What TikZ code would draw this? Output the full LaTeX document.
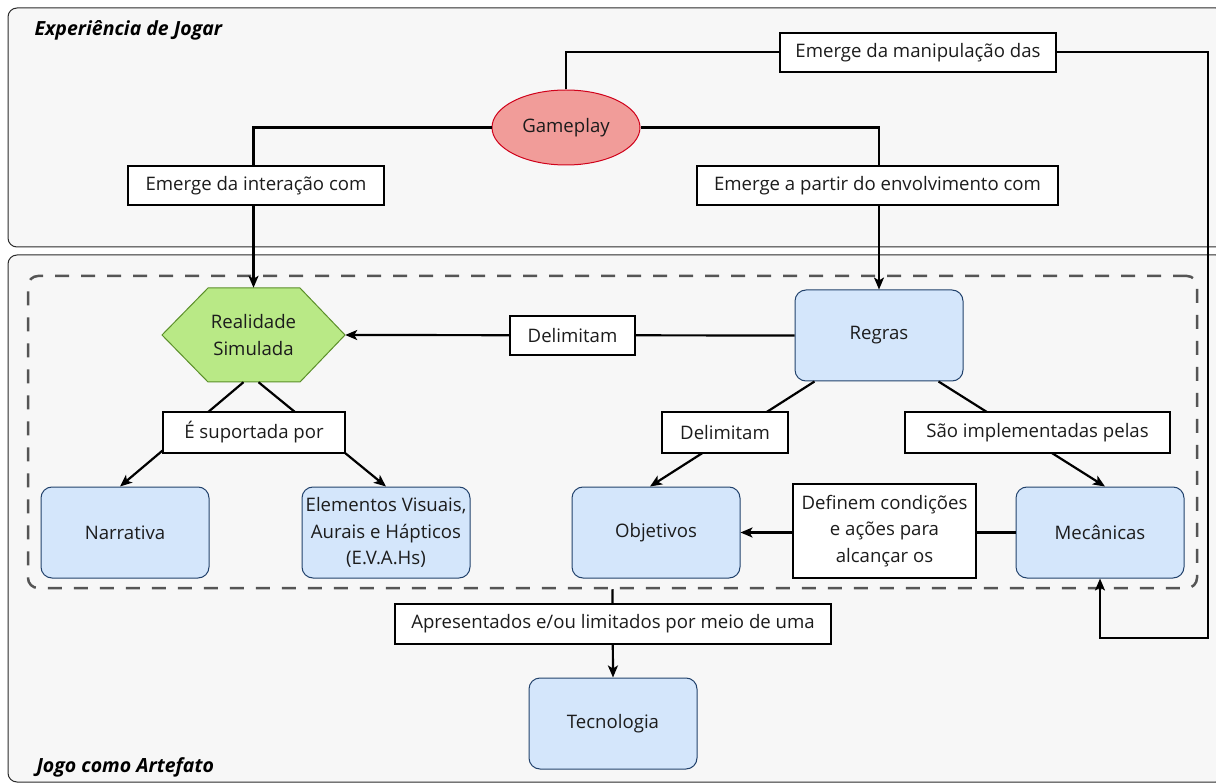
\documentclass[tikz,border=0pt]{standalone}
\usepackage{fontspec}
\setmainfont{Open Sans}
\usetikzlibrary{shapes.geometric,arrows.meta}
\definecolor{panelfill}{HTML}{F7F7F7}
\definecolor{panelline}{HTML}{2B2B2B}
\definecolor{dashline}{HTML}{555555}
\definecolor{bluefill}{HTML}{D4E6FB}
\definecolor{blueline}{HTML}{22426C}
\definecolor{greenfill}{HTML}{B9E986}
\definecolor{greenline}{HTML}{5B8F29}
\definecolor{redfill}{HTML}{F19C99}
\definecolor{redline}{HTML}{D0021B}
\definecolor{txt}{HTML}{1C1C1C}
\tikzset{
  x=1pt, y=-1pt,
  panel/.style={draw=panelline, fill=panelfill, line width=1pt, rounded corners=9pt},
  paneltitle/.style={anchor=west, font=\fontsize{19.5}{22}\selectfont\bfseries\itshape, text=black},
  bodyfont/.style={font=\fontsize{18.6}{26.5}\selectfont, text=txt},
  bluebox/.style={draw=blueline, fill=bluefill, line width=1pt, rounded corners=11pt,
    minimum width=168pt, minimum height=91pt, inner sep=0pt, align=center, bodyfont},
  tag/.style={draw=black, fill=white, line width=1.5pt, inner sep=0pt, align=center,
    minimum height=39pt, bodyfont},
  conn/.style={draw=black, line width=2.2pt,
    -{Stealth[length=12pt, width=10pt, inset=3pt]}},
}
\begin{document}
\begin{tikzpicture}
\useasboundingbox (0,0) rectangle (1216,783);

% outer panels
\draw[panel] (8,8) rectangle (1225,247);
\node[paneltitle] at (31,30) {Experiência de Jogar};
\draw[panel] (8,255) rectangle (1225,782);
\node[paneltitle] at (33,767) {Jogo como Artefato};

% dashed group of game elements
\node[draw=dashline, line width=2.5pt, dash pattern=on 14pt off 12pt,
  rounded corners=10pt, minimum width=1169pt, minimum height=312pt, inner sep=0pt]
  (grupo) at (612.5,432) {};

% nodes
\node[ellipse, draw=redline, fill=redfill, line width=1pt, minimum width=148pt,
  minimum height=75pt, inner sep=0pt, bodyfont]
  (gameplay) at (566,127.5) {Gameplay};

\fill[greenfill, draw=greenline, line width=1pt]
  (162,335) -- (208,288) -- (300,288) -- (345,335) -- (300,382) -- (208,382) -- cycle;
\node[minimum width=183pt, minimum height=94pt, inner sep=0pt, align=center, bodyfont]
  (realidade) at (253.5,335) {Realidade\\Simulada};

\node[bluebox] (regras) at (879,335.5) {Regras};
\node[bluebox] (narrativa) at (125,532.5) {Narrativa};
\node[bluebox] (elementos) at (386,532.5) {Elementos Visuais,\\Aurais e Hápticos\\(E.V.A.Hs)};
\node[bluebox] (objetivos) at (656,532.5) {Objetivos};
\node[bluebox] (mecanicas) at (1100,532.5) {Mecânicas};
\node[bluebox] (tecnologia) at (613,723.5) {Tecnologia};

% connectors
\coordinate (m1) at (1208,52);
\coordinate (m2) at (1208,638);
\draw[conn] (gameplay.north) |- (m1) -- (m2) -| (mecanicas.south);
\draw[conn] (gameplay.west) -| (realidade.north);
\draw[conn] (gameplay.east) -| (regras.north);
\draw[conn] (regras.west) -- (realidade.east);
\draw[conn] ([xshift=-10pt]realidade.south) -- ([xshift=-5pt]narrativa.north);
\draw[conn] ([xshift=5pt]realidade.south) -- (elementos.north);
\draw[conn] ([xshift=20pt]regras.south west) -- ([xshift=-6pt]objetivos.north);
\draw[conn] ([xshift=-25pt]regras.south east) -- ([xshift=5pt]mecanicas.north);
\draw[conn] (mecanicas.west) -- (objetivos.east);
\draw[conn] (grupo.south) -- (tecnologia.north);

% connector labels
\node[tag, minimum width=276pt] (t1) at (918,52.5) {Emerge da manipulação das};
\node[tag, minimum width=256pt] (t2) at (256,185.5) {Emerge da interação com};
\node[tag, minimum width=361pt] (t3) at (877.5,185.5) {Emerge a partir do envolvimento com};
\node[tag, minimum width=125pt] (t4) at (572.5,335.5) {Delimitam};
\node[tag, minimum width=182pt, minimum height=41pt] (t5) at (254,432.5) {É suportada por};
\node[tag, minimum width=126pt, minimum height=41pt] (t6) at (725,432.5) {Delimitam};
\node[tag, minimum width=265pt, minimum height=41pt] (t7) at (1037.5,432.5) {São implementadas pelas};
\node[tag, minimum width=183pt, minimum height=94pt] (t8) at (884.5,531) {Definem condições\\e ações para\\alcançar os};
\node[tag, minimum width=436pt, minimum height=40pt] (t9) at (613,624) {Apresentados e/ou limitados por meio de uma};
\end{tikzpicture}
\end{document}
